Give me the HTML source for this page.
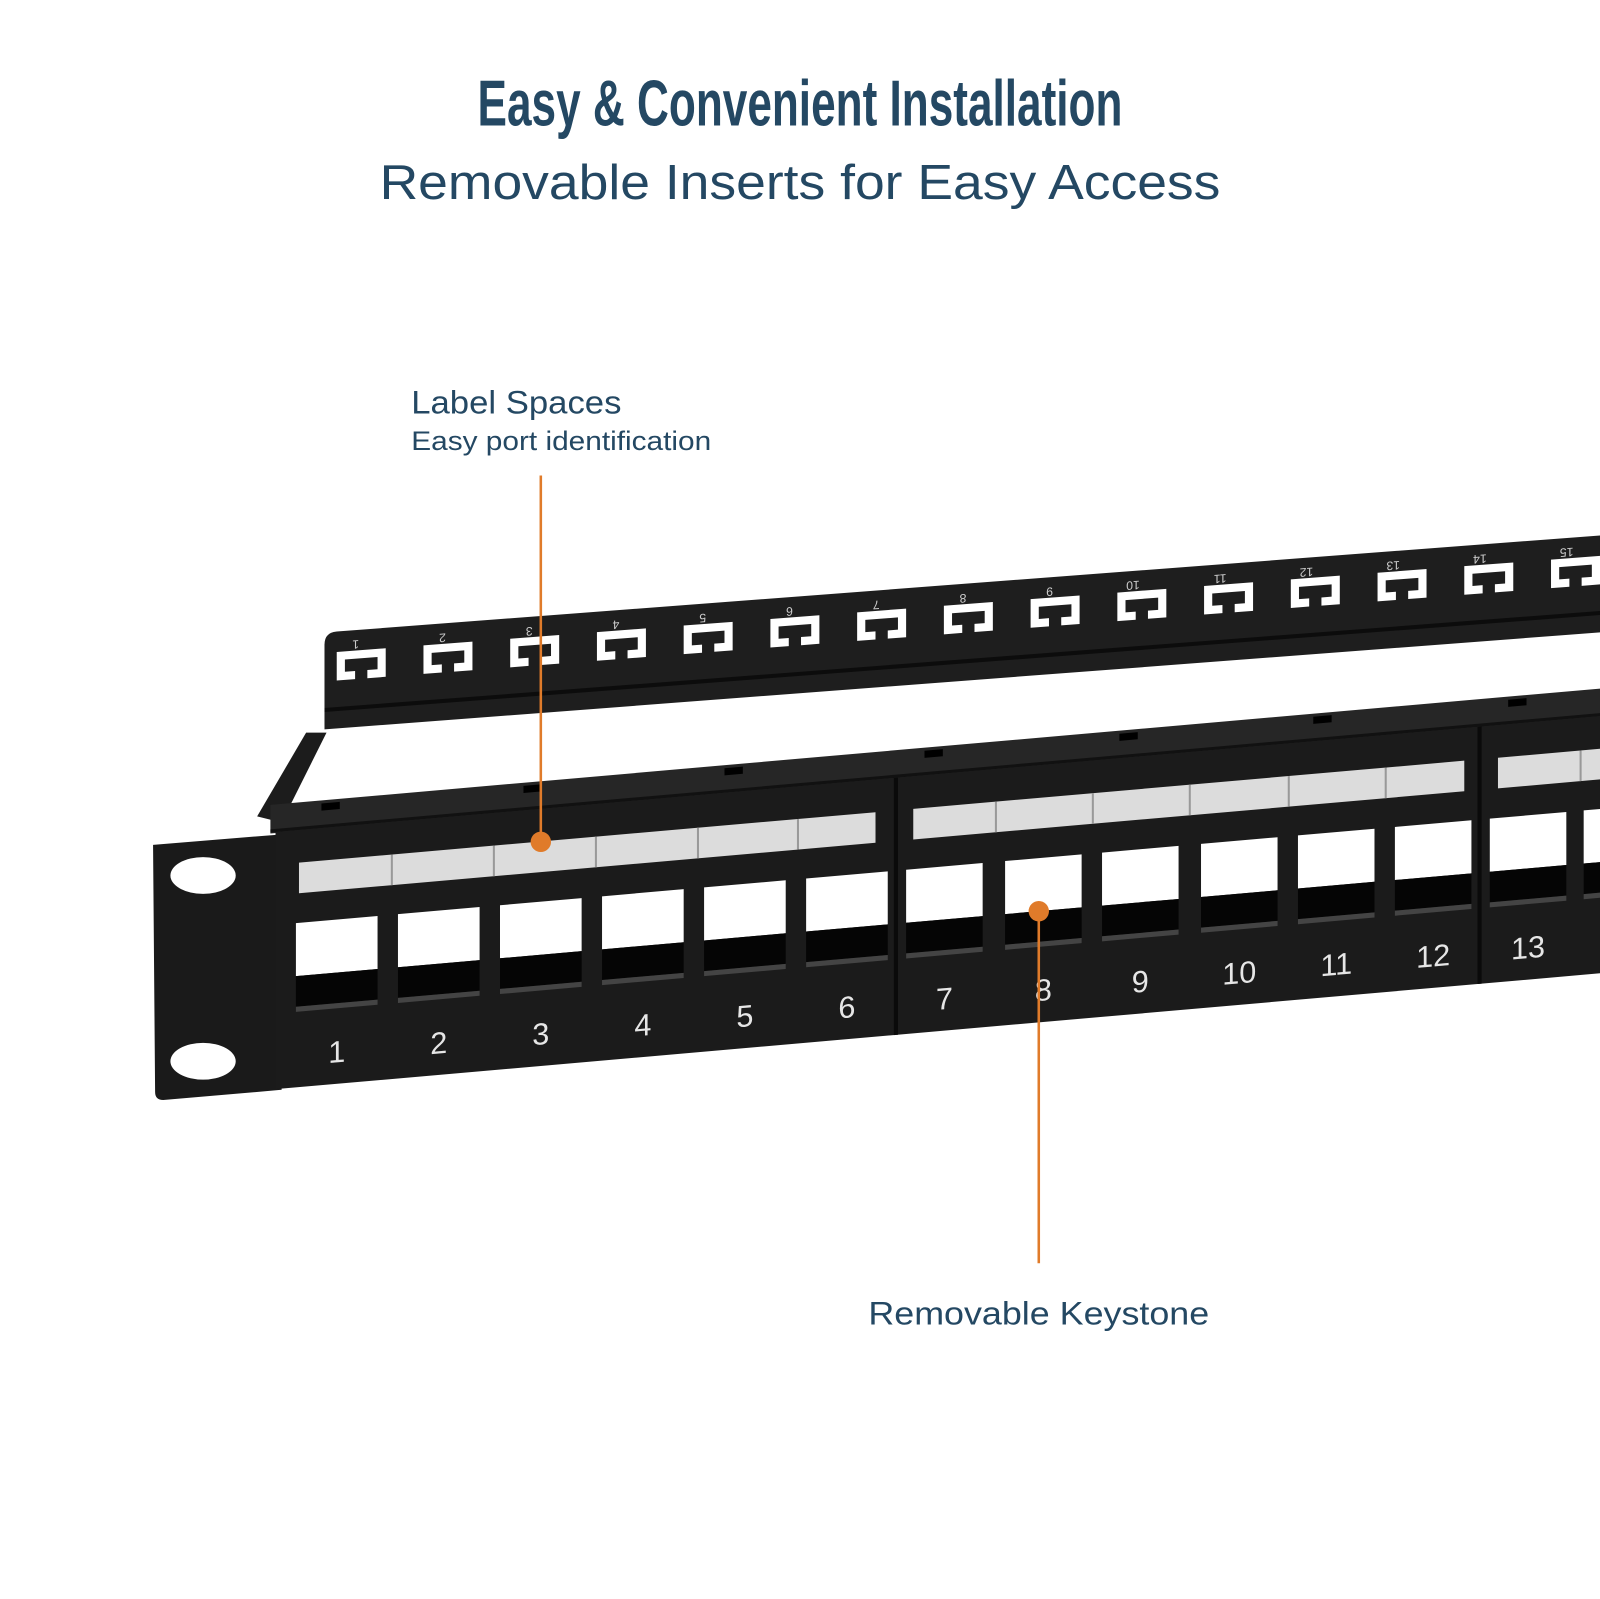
<!DOCTYPE html>
<html><head><meta charset="utf-8"><style>
html,body{margin:0;padding:0;background:#fff;}
svg{display:block;}
text{font-family:"Liberation Sans",sans-serif;}
</style></head><body>
<svg width="1600" height="1599" viewBox="0 0 1568 1567" xmlns="http://www.w3.org/2000/svg">
<rect width="1568" height="1567" fill="#fff"/>
<text x="784" y="123" text-anchor="middle" font-family="Liberation Sans Narrow, Liberation Sans, sans-serif" font-weight="bold" font-size="64" fill="#244863" textLength="632" lengthAdjust="spacingAndGlyphs">Easy &amp; Convenient Installation</text>
<text x="784" y="195" text-anchor="middle" font-size="48" fill="#244863" textLength="824" lengthAdjust="spacingAndGlyphs">Removable Inserts for Easy Access</text>
<text x="403" y="405" font-size="32" fill="#244863" textLength="206" lengthAdjust="spacingAndGlyphs">Label Spaces</text>
<text x="403" y="441" font-size="26" fill="#244863" textLength="294" lengthAdjust="spacingAndGlyphs">Easy port identification</text>
<text x="851" y="1298" font-size="32" fill="#244863" textLength="334" lengthAdjust="spacingAndGlyphs">Removable Keystone</text>

<!-- side frame -->
<polygon points="252,800 300,718 320,718 276,806" fill="#1c1c1c"/>
<!-- ear -->
<path d="M150,828 L272,818 L276,1068 L160,1078 Q152,1078 152,1070 Z" fill="#1a1a1a"/>
<ellipse cx="199" cy="858" rx="32" ry="18" fill="#fff"/>
<ellipse cx="199" cy="1040" rx="32" ry="18" fill="#fff"/>

<g id="rail" transform="skewY(-4.35)">
  <path d="M318,656 Q318,644 330,644 L1568,644 L1568,739 L318,739 Z" fill="#1e1e1e"/>
  <rect x="318" y="718" width="1250" height="4" fill="#0c0c0c"/>
</g>

<g id="front" transform="skewY(-5)">
  <rect x="265" y="812" width="1303" height="28" fill="#262626"/>
  <rect x="265" y="836" width="1303" height="3" fill="#111"/>
  <rect x="270" y="839" width="1298" height="252" fill="#1b1b1b"/>
  <rect x="876" y="839" width="4" height="252" fill="#0a0a0a"/>
  <rect x="1448" y="839" width="4" height="252" fill="#0a0a0a"/>
  <rect x="293" y="871" width="565" height="30" fill="#dcdcdc"/>
  <rect x="895" y="871" width="540" height="30" fill="#dcdcdc"/>
  <rect x="1468" y="871" width="100" height="30" fill="#dcdcdc"/>
  <rect x="315" y="815" width="18" height="7" fill="#000"/>
  <rect x="513" y="815" width="18" height="7" fill="#000"/>
  <rect x="710" y="815" width="18" height="7" fill="#000"/>
  <rect x="906" y="815" width="18" height="7" fill="#000"/>
  <rect x="1097" y="815" width="18" height="7" fill="#000"/>
  <rect x="1287" y="815" width="18" height="7" fill="#000"/>
  <rect x="1478" y="815" width="18" height="7" fill="#000"/>
</g>

<script>
(function(){
 var NS="http://www.w3.org/2000/svg";
 var g=document.getElementById('front');
 var r=document.getElementById('rail');
 function el(t,a,p){var e=document.createElementNS(NS,t);for(var k in a)e.setAttribute(k,a[k]);(p||g).appendChild(e);return e;}
 for(var i=0;i<15;i++){
   var x=330+85*i;
   el('path',{d:'M'+x+',664 h48 v28 h-18 v-8 h10 v-12 h-32 v12 h10 v8 h-18 Z',fill:'#fff'},r);
   var t=el('text',{x:0,y:0,'font-size':12,fill:'#ccc',transform:'translate('+(x+22)+',654) rotate(180)'},r);t.textContent=(i+1);
 }
 var divs=[383,483,583,683,781,975,1070,1165,1262,1357,1548];
 divs.forEach(function(d){el('rect',{x:d,y:871,width:2,height:30,fill:'#999'});});
 var xs=[290,390,490,590,690,790,888,985,1080,1177,1272,1367,1460,1552];
 xs.forEach(function(x,i){
   var w=i<6?80:75;
   el('rect',{x:x,y:930,width:w,height:52,fill:'#fff'});
   el('rect',{x:x,y:982,width:w,height:30,fill:'#050505'});
   el('rect',{x:x,y:1012,width:w,height:5,fill:'#444'});
   var t=el('text',{x:x+w/2,y:1070,'text-anchor':'middle','font-size':30,fill:'#e6e6e6'});t.textContent=(i+1);
 });
})();
</script>

<line x1="530" y1="466" x2="530" y2="825" stroke="#e07b2a" stroke-width="2.5"/>
<circle cx="530" cy="825" r="10" fill="#e07b2a"/>
<line x1="1018" y1="893" x2="1018" y2="1238" stroke="#e07b2a" stroke-width="2.5"/>
<circle cx="1018" cy="893" r="10" fill="#e07b2a"/>
</svg>
</body></html>
